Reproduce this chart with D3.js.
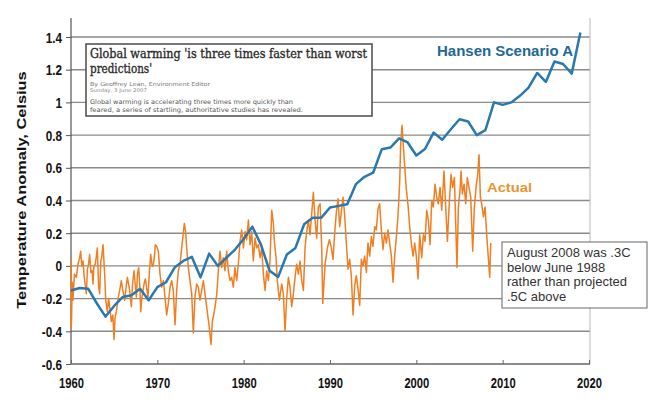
<!DOCTYPE html>
<html><head><meta charset="utf-8">
<script src="https://cdn.jsdelivr.net/npm/d3@7"></script>
<style>body{margin:0;background:#fff}svg{display:block}</style>
</head><body><svg id="c" width="657" height="399"></svg>
<script>
// ---------- DATA ----------
const yTicks = [-0.6, -0.4, -0.2, 0, 0.2, 0.4, 0.6, 0.8, 1, 1.2, 1.4];
const xTicks = [1960, 1970, 1980, 1990, 2000, 2010, 2020];

const hansenYears = [1960,1961,1962,1963,1964,1965,1966,1967,1968,1969,1970,1971,1972,1973,1974,1975,1976,1977,1978,1979,
  1980,1981,1982,1983,1984,1985,1986,1987,1988,1989,1990,1991,1992,1993,1994,1995,1996,1997,1998,1999,
  2000,2001,2002,2003,2004,2005,2006,2007,2008,2009,2010,2011,2012,2013,2014,2015,2016,2017,2018,2019];
const hansenValues = [-0.15,-0.135,-0.14,-0.23,-0.31,-0.245,-0.19,-0.18,-0.14,-0.21,-0.13,-0.10,-0.01,0.03,0.055,-0.07,0.075,0.0,0.05,0.10,
  0.165,0.24,0.13,-0.03,-0.067,0.07,0.11,0.255,0.295,0.295,0.357,0.367,0.377,0.50,0.545,0.57,0.714,0.724,0.78,0.755,
  0.675,0.715,0.815,0.772,0.836,0.897,0.883,0.80,0.83,1.0,0.985,1.0,1.04,1.09,1.18,1.125,1.25,1.235,1.176,1.427];

const actualYears = [1960.00,1960.04,1960.15,1960.23,1960.40,1960.62,1960.81,1961.00,1961.12,1961.25,1961.39,1961.50,1961.58,1961.78,1961.90,
  1962.00,1962.16,1962.30,1962.45,1962.55,1962.65,1962.80,1962.92,1963.05,1963.20,1963.32,1963.45,1963.55,1963.71,1963.90,
  1964.02,1964.21,1964.35,1964.48,1964.67,1964.85,1964.98,1965.10,1965.25,1965.45,1965.64,1965.83,1966.00,1966.22,1966.40,
  1966.53,1966.70,1966.80,1966.99,1967.15,1967.30,1967.45,1967.57,1967.70,1967.84,1968.00,1968.07,1968.20,1968.34,1968.50,
  1968.61,1968.80,1968.92,1969.10,1969.23,1969.40,1969.52,1969.65,1969.77,1969.92,1970.12,1970.31,1970.50,1970.70,1970.89,
  1971.08,1971.27,1971.47,1971.66,1971.85,1972.05,1972.24,1972.43,1972.63,1972.82,1973.13,1973.28,1973.40,1973.59,1973.78,
  1973.98,1974.17,1974.36,1974.56,1974.75,1974.94,1975.14,1975.33,1975.52,1975.83,1975.98,1976.22,1976.37,1976.60,1976.87,
  1977.07,1977.26,1977.45,1977.65,1977.84,1978.03,1978.22,1978.42,1978.61,1978.80,1978.99,1979.19,1979.38,1979.58,1979.77,
  1979.97,1980.16,1980.35,1980.55,1980.74,1980.93,1981.12,1981.32,1981.51,1981.70,1981.90,1982.09,1982.28,1982.48,1982.67,
  1982.86,1983.05,1983.25,1983.44,1983.56,1983.75,1983.90,1984.14,1984.41,1984.60,1984.79,1984.99,1985.18,1985.37,1985.56,
  1985.76,1985.95,1986.14,1986.34,1986.53,1986.72,1986.92,1987.11,1987.30,1987.50,1987.69,1987.88,1988.07,1988.27,1988.46,
  1988.65,1988.85,1989.04,1989.16,1989.43,1989.70,1989.93,1990.16,1990.35,1990.54,1990.74,1990.93,1991.12,1991.31,1991.51,
  1991.70,1991.89,1992.09,1992.28,1992.47,1992.67,1992.86,1993.05,1993.24,1993.44,1993.63,1993.82,1994.02,1994.21,1994.40,
  1994.60,1994.79,1994.98,1995.18,1995.37,1995.56,1995.75,1995.95,1996.14,1996.33,1996.53,1996.72,1996.91,1997.11,1997.30,
  1997.49,1997.69,1997.88,1998.07,1998.19,1998.34,1998.50,1998.65,1998.84,1999.04,1999.23,1999.42,1999.62,1999.81,2000.00,
  2000.20,2000.39,2000.62,2000.82,2001.01,2001.20,2001.39,2001.59,2001.78,2001.97,2002.17,2002.36,2002.55,2002.75,2002.94,
  2003.21,2003.40,2003.60,2003.79,2004.02,2004.21,2004.41,2004.56,2004.71,2004.87,2005.06,2005.18,2005.33,2005.53,2005.72,
  2005.91,2006.10,2006.30,2006.53,2006.72,2006.92,2007.11,2007.26,2007.42,2007.57,2007.77,2007.96,2008.15,2008.34,2008.50,2008.62];
const actualValues = [0.04,-0.38,-0.10,-0.21,-0.05,-0.07,0.01,0.05,0.09,0.00,0.03,-0.05,-0.09,-0.17,-0.02,
  0.00,0.07,-0.04,-0.03,-0.11,0.00,0.01,0.05,0.11,-0.13,-0.17,0.03,0.05,0.13,-0.05,
  -0.21,-0.28,-0.20,-0.25,-0.34,-0.30,-0.45,-0.32,-0.28,-0.20,-0.15,-0.09,-0.15,-0.21,-0.12,
  -0.07,-0.12,-0.15,-0.25,-0.10,-0.03,-0.12,-0.19,-0.05,-0.01,-0.15,-0.28,-0.20,-0.15,-0.10,
  -0.08,-0.15,-0.19,-0.02,0.07,0.00,0.00,0.05,0.13,0.12,0.09,-0.05,-0.13,-0.09,-0.19,
  -0.30,-0.23,-0.13,-0.09,-0.15,-0.36,-0.15,-0.03,0.01,0.11,0.26,0.21,0.11,-0.01,-0.09,
  -0.17,-0.41,-0.19,-0.11,-0.13,-0.21,-0.15,-0.09,-0.17,-0.30,-0.36,-0.48,-0.34,-0.28,-0.18,
  -0.03,0.09,-0.01,0.05,-0.03,0.09,-0.03,-0.09,-0.07,-0.13,-0.01,-0.09,0.01,0.15,0.22,
  0.11,0.21,0.16,0.28,0.13,0.21,0.03,0.17,0.11,0.13,0.05,0.11,-0.05,-0.15,-0.03,
  -0.09,0.03,0.34,0.26,0.15,0.05,-0.09,-0.21,-0.11,-0.17,-0.40,-0.19,-0.07,-0.13,-0.25,
  -0.17,-0.07,0.01,-0.05,0.03,-0.09,-0.15,0.11,0.21,0.28,0.19,0.32,0.45,0.28,0.17,
  0.36,0.38,0.11,-0.23,0.01,0.11,0.16,0.11,0.04,0.20,0.33,0.41,0.24,0.33,0.42,
  0.31,0.14,-0.02,0.04,-0.06,-0.30,-0.12,-0.06,-0.14,-0.24,0.04,0.00,0.06,-0.04,0.14,
  0.06,0.18,0.12,0.24,0.22,0.35,0.38,0.22,0.10,0.20,0.14,0.22,0.14,0.06,-0.10,
  0.06,0.18,0.31,0.51,0.75,0.86,0.73,0.61,0.47,0.37,0.24,0.14,0.06,0.14,0.06,
  -0.08,0.19,0.05,0.19,0.15,0.34,0.28,0.13,0.40,0.36,0.50,0.42,0.38,0.48,0.34,
  0.58,0.36,0.15,0.36,0.56,0.48,0.54,0.26,-0.01,0.36,0.46,0.58,0.44,0.50,0.38,
  0.54,0.48,0.42,0.09,0.36,0.48,0.56,0.68,0.42,0.38,0.30,0.36,0.19,0.05,-0.07,0.14];

const seriesLabels = ["Hansen Scenario A", "Actual"];
const yTitle = "Temperature Anomaly, Celsius";
const articleHeadline = ["Global warming 'is three times faster than worst", "predictions'"];
const articleByline = ["By Geoffrey Lean, Environment Editor", "Sunday, 3 June 2007"];
const articleBody = ["Global warming is accelerating three times more quickly than",
  "feared, a series of startling, authoritative studies has revealed."];
const noteLines = ["August 2008 was .3C", "below June 1988", "rather than projected", ".5C above"];

// ---------- LAYOUT ----------
const svg = d3.select("#c");
const L = 71, R = 590, T = 18, B = 364;
const x = d3.scaleLinear().domain([1960, 2020]).range([71, 589]);
const y = d3.scaleLinear().domain([-0.6, 1.4]).range([364, 37]);
const fmt = d => String(+d.toFixed(1));

svg.append("rect").attr("width", 657).attr("height", 399).attr("fill", "#fff");

// gridlines
svg.append("g").selectAll("line").data(yTicks.filter(d => d !== -0.6)).join("line")
  .attr("x1", L).attr("x2", R).attr("y1", d => y(d)).attr("y2", d => y(d))
  .attr("stroke", "#8a8a8a").attr("stroke-width", 1.4);

// right border
svg.append("line").attr("x1", R).attr("x2", R).attr("y1", T).attr("y2", B)
  .attr("stroke", "#b8b8b8").attr("stroke-width", 1);

// y axis
const gy = svg.append("g").attr("transform", `translate(${L},0)`)
  .call(d3.axisLeft(y).tickValues(yTicks).tickSize(5).tickFormat(""));
gy.select(".domain").remove();
gy.selectAll(".tick line").attr("stroke", "#555");
gy.selectAll(".tick").append("text")
  .attr("transform", "scale(0.84,1)")
  .attr("x", -9 / 0.84).attr("dy", "0.36em")
  .attr("text-anchor", "end").attr("fill", "#111")
  .style("font", "bold 14px 'Liberation Sans', Arial, sans-serif")
  .text(d => fmt(d));
svg.append("line").attr("x1", L).attr("x2", L).attr("y1", T).attr("y2", B)
  .attr("stroke", "#555").attr("stroke-width", 1.2);

// x axis
const gx = svg.append("g").attr("transform", `translate(0,${B})`)
  .call(d3.axisBottom(x).tickValues(xTicks).tickSizeInner(-4).tickSizeOuter(0).tickFormat(""));
gx.select(".domain").attr("stroke", "#666").attr("stroke-width", 1.4).attr("d", `M${L},0H${R}`);
gx.selectAll(".tick line").attr("stroke", "#666");
gx.selectAll(".tick").append("text")
  .attr("transform", "scale(0.8,1)")
  .attr("y", 24).attr("text-anchor", "middle").attr("fill", "#111")
  .style("font", "bold 14px 'Liberation Sans', Arial, sans-serif")
  .text(d => d);

// y title
svg.append("text")
  .attr("transform", "translate(26,190) rotate(-90) scale(1,0.82)")
  .attr("text-anchor", "middle").attr("fill", "#111")
  .style("font", "bold 16.4px 'Liberation Sans', Arial, sans-serif")
  .text(yTitle);

// series
const actual = actualYears.map((t, i) => ({t, v: actualValues[i]}));
const hansen = hansenYears.map((t, i) => ({t, v: hansenValues[i]}));
const line = d3.line().x(d => x(d.t)).y(d => y(d.v));

svg.append("path").datum(actual).attr("d", line)
  .attr("fill", "none").attr("stroke", "#f07f22").attr("stroke-width", 1.5)
  .attr("stroke-linejoin", "round");
svg.append("path").datum(hansen).attr("d", line)
  .attr("fill", "none").attr("stroke", "#2a79ae").attr("stroke-width", 2.5)
  .attr("stroke-linejoin", "round");

// series labels
svg.append("text").attr("x", 437).attr("y", 56).attr("fill", "#1d6896")
  .attr("textLength", 136).attr("lengthAdjust", "spacingAndGlyphs")
  .style("font", "bold 14px 'Liberation Sans', Arial, sans-serif").text(seriesLabels[0]);
svg.append("text").attr("x", 487).attr("y", 192).attr("fill", "#e8952c")
  .attr("textLength", 45).attr("lengthAdjust", "spacingAndGlyphs")
  .style("font", "bold 13px 'Liberation Sans', Arial, sans-serif").text(seriesLabels[1]);

// article box
const art = svg.append("g");
art.append("rect").attr("x", 86).attr("y", 44).attr("width", 286).attr("height", 72)
  .attr("fill", "#fff").attr("stroke", "#555").attr("stroke-width", 1.6);
art.selectAll("text.head").data(articleHeadline).join("text").attr("class", "head")
  .attr("x", 90).attr("y", (d, i) => 58 + i * 14.6).attr("fill", "#2a2a2a")
  .attr("stroke", "#2a2a2a").attr("stroke-width", 0.35)
  .attr("textLength", (d, i) => i === 0 ? 277 : 62).attr("lengthAdjust", "spacingAndGlyphs")
  .style("font", "12.4px 'DejaVu Serif', Georgia, serif").text(d => d);
art.append("text").attr("x", 90).attr("y", 86).attr("fill", "#777")
  .attr("textLength", 120).attr("lengthAdjust", "spacingAndGlyphs")
  .style("font", "5.5px 'DejaVu Sans', Verdana, sans-serif").text(articleByline[0]);
art.append("text").attr("x", 90).attr("y", 92).attr("fill", "#888")
  .attr("textLength", 57).attr("lengthAdjust", "spacingAndGlyphs")
  .style("font", "5px 'DejaVu Sans', Verdana, sans-serif").text(articleByline[1]);
art.append("text").attr("x", 90).attr("y", 104).attr("fill", "#555")
  .attr("textLength", 203).attr("lengthAdjust", "spacingAndGlyphs")
  .style("font", "6.3px 'DejaVu Sans', Verdana, sans-serif").text(articleBody[0]);
art.append("text").attr("x", 90).attr("y", 112).attr("fill", "#555")
  .attr("textLength", 213).attr("lengthAdjust", "spacingAndGlyphs")
  .style("font", "6.3px 'DejaVu Sans', Verdana, sans-serif").text(articleBody[1]);

// note box
const note = svg.append("g");
note.append("rect").attr("x", 502).attr("y", 242).attr("width", 145).attr("height", 66)
  .attr("fill", "#fff").attr("stroke", "#666").attr("stroke-width", 1);
note.selectAll("text.note").data(noteLines).join("text").attr("class", "note")
  .attr("x", 507).attr("y", (d, i) => 257 + i * 14.7).attr("fill", "#333")
  .style("font", "13px 'Liberation Sans', Arial, sans-serif").text(d => d);
</script>
</body></html>
